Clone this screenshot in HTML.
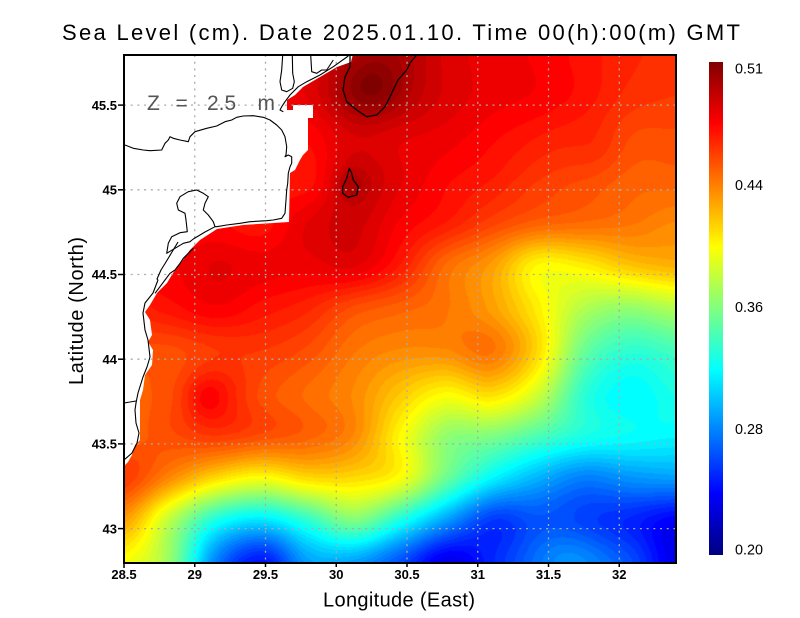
<!DOCTYPE html>
<html><head><meta charset="utf-8">
<style>
html,body{margin:0;padding:0;background:#fff;}
body{width:800px;height:618px;position:relative;overflow:hidden;font-family:"Liberation Sans",sans-serif;}
#cv{position:absolute;left:124px;top:55px;width:552px;height:508px;
background:linear-gradient(165deg,#d00000 0%,#ff2000 30%,#ff8000 50%,#ffe000 62%,#40ffc0 75%,#00a0ff 85%,#0010e0 100%);}
#ov{position:absolute;left:0;top:0;}
</style></head><body>
<canvas id="cv" width="552" height="508"></canvas>
<svg id="ov" width="800" height="618" viewBox="0 0 800 618" xmlns="http://www.w3.org/2000/svg">
<defs>
<linearGradient id="jet" x1="0" y1="1" x2="0" y2="0">
<stop offset="0" stop-color="#000080"/>
<stop offset="0.125" stop-color="#0000ff"/>
<stop offset="0.375" stop-color="#00ffff"/>
<stop offset="0.625" stop-color="#ffff00"/>
<stop offset="0.875" stop-color="#ff0000"/>
<stop offset="1" stop-color="#800000"/>
</linearGradient>
<clipPath id="pc"><rect x="124" y="55" width="552" height="508"/></clipPath>
</defs>

<!-- land mask -->
<g clip-path="url(#pc)">
<polygon fill="#fff" points="120,50 353,50 353,54 351,62 337,67 320,77 303,87 295,95 287,100 287,110 293,110 293,105 313,105 313,118 308,118 308,150 303,155 300,160 295,170 290,173 289,222 243,225 217,229 200,240 190,250 183,260 173,273 167,283 157,293 150,305 145,312 150,320 152,335 148,342 153,350 152,365 145,375 143,390 140,400 140,440 135,445 132,455 128,462 124,466 120,466"/>

<!-- grid -->
<g stroke="#aaaaaa" stroke-width="1.3" stroke-dasharray="2 4.7" fill="none">
<line x1="194.75" y1="55" x2="194.75" y2="563"/>
<line x1="265.5" y1="55" x2="265.5" y2="563"/>
<line x1="336.25" y1="55" x2="336.25" y2="563"/>
<line x1="407" y1="55" x2="407" y2="563"/>
<line x1="477.75" y1="55" x2="477.75" y2="563"/>
<line x1="548.5" y1="55" x2="548.5" y2="563"/>
<line x1="619.25" y1="55" x2="619.25" y2="563"/>
<line x1="124" y1="105.1" x2="676" y2="105.1"/>
<line x1="124" y1="189.8" x2="676" y2="189.8"/>
<line x1="124" y1="274.5" x2="676" y2="274.5"/>
<line x1="124" y1="359.2" x2="676" y2="359.2"/>
<line x1="124" y1="443.9" x2="676" y2="443.9"/>
<line x1="124" y1="528.6" x2="676" y2="528.6"/>
</g>

<!-- coastlines -->
<g stroke="#000" stroke-width="1.1" fill="none" stroke-linejoin="round">
<polyline points="125,145 133.3,148.3 143.3,150 150,150.7 161.7,150 163.3,146.7 165,143.3 168.3,140 170,136.7 173.3,138.3 180,140 188.3,141.7 190,136.7 195,131.7 206.7,128.3 216.7,126 225,121.7 231.7,120 236.7,117.3 243.3,116 253.3,115.7 263.3,117.3 270,120 276.7,125 281.7,130 285,136.7 286.7,146.7 286,155 285,156.7 288.3,155 291.7,156.7 291.7,163.3 290,166.7 288.3,173.3 287.7,183.3 286.7,190 286,200 285,213.3 281.7,218.3 273.3,220 266.7,220.7 250,221.7 240,223.3 226.7,225 216.7,226.7 215,226.7"/>
<polyline points="215,226.7 213.3,221.7 208.3,215 203.3,210 205,203.3 208.3,196.7 203.3,193.3 196.7,190 188.3,191.7 180,196.7 176.7,203.3 178.3,210 185,213.3 186,220 187.3,231.7 180,232.7 171.7,236.7 168.3,243.3 166.7,253.3 175,248.3 183.3,243.3 190,241.7 193.3,239 205,232 215,226.7"/>
<polyline points="193.3,248.3 188.3,253.3 183.3,258.3 180,263.3 175,270 170,273.3 165,280 160,286.7 155,293.3"/>
<polyline points="178,242 172,252 166,262 161,270 157,279 158,280"/>
<polyline points="158,280 153,293 145,303 143,313 145,330 148,340 150,357 147,367 143,377 138,393 136,403 135,410 136,423 139,433 137,443 132,453 124,460"/>
<polyline points="124,403 136,401"/>
<polyline points="282.7,55 281.7,70 280,81.7 281.7,90 286.7,91.7 292.7,88.3 294.3,81.7 292.7,73.3 292.3,55"/>
<polyline points="348.3,56 333.3,66.7 320,75 306.7,81.7 298.3,86.7 290,95 285,101.7 281.7,106.7 280,110 283.3,111.7"/>
<polyline points="310.7,55 311.7,71.7 316.7,73.3 321.7,70 326.7,70 330,65 333.3,60"/>
<!-- contours -->
<polyline points="350,55 350,66.7 345,76.7 343,90 346.7,101.7 356.7,110 366.7,116.7 376.7,115 385,106.7 390,96.7 398,80 406.7,70 410,63 416.7,55" stroke-width="1.3"/>
<polygon points="349.3,168.3 351.7,173.3 353.3,180 358.3,186.7 356.7,195 348.3,197.3 342.7,193.3 342.7,186.7 346.7,178.3" stroke-width="1.3"/>
</g>

<g font-size="21" fill="#555">
<text x="147" y="110">Z</text>
<text x="175.5" y="110">=</text>
<text x="207" y="110">2.5</text>
<text x="257.5" y="110">m</text>
</g>
</g>

<!-- plot frame -->
<rect x="124" y="55" width="552" height="508" fill="none" stroke="#000" stroke-width="2"/>

<!-- ticks -->
<g stroke="#000" stroke-width="1.5">
<line x1="118" y1="105.1" x2="124" y2="105.1"/>
<line x1="118" y1="189.8" x2="124" y2="189.8"/>
<line x1="118" y1="274.5" x2="124" y2="274.5"/>
<line x1="118" y1="359.2" x2="124" y2="359.2"/>
<line x1="118" y1="443.9" x2="124" y2="443.9"/>
<line x1="118" y1="528.6" x2="124" y2="528.6"/>
<line x1="124" y1="563" x2="124" y2="568"/>
<line x1="194.75" y1="563" x2="194.75" y2="567"/>
<line x1="265.5" y1="563" x2="265.5" y2="567"/>
<line x1="336.25" y1="563" x2="336.25" y2="567"/>
<line x1="407" y1="563" x2="407" y2="567"/>
<line x1="477.75" y1="563" x2="477.75" y2="567"/>
<line x1="548.5" y1="563" x2="548.5" y2="567"/>
<line x1="619.25" y1="563" x2="619.25" y2="567"/>
</g>

<g font-size="13" font-weight="bold" fill="#000" text-anchor="end">
<text x="117" y="109.8">45.5</text>
<text x="117" y="194.5">45</text>
<text x="117" y="279.2">44.5</text>
<text x="117" y="363.9">44</text>
<text x="117" y="448.6">43.5</text>
<text x="117" y="533.3">43</text>
</g>
<g font-size="13" font-weight="bold" fill="#000" text-anchor="middle">
<text x="124" y="579">28.5</text>
<text x="194.75" y="579">29</text>
<text x="265.5" y="579">29.5</text>
<text x="336.25" y="579">30</text>
<text x="407" y="579">30.5</text>
<text x="477.75" y="579">31</text>
<text x="548.5" y="579">31.5</text>
<text x="619.25" y="579">32</text>
</g>

<!-- colorbar -->
<rect x="709" y="62" width="14" height="493" fill="url(#jet)"/>
<g font-size="14.5" fill="#000">
<text x="735" y="73.5" textLength="28" lengthAdjust="spacingAndGlyphs">0.51</text>
<text x="735" y="190" textLength="28" lengthAdjust="spacingAndGlyphs">0.44</text>
<text x="735" y="312" textLength="28" lengthAdjust="spacingAndGlyphs">0.36</text>
<text x="735" y="434" textLength="28" lengthAdjust="spacingAndGlyphs">0.28</text>
<text x="735" y="554.5" textLength="28" lengthAdjust="spacingAndGlyphs">0.20</text>
</g>

<!-- titles -->
<text x="62" y="40" font-size="22" fill="#000" textLength="678" lengthAdjust="spacing">Sea Level (cm). Date 2025.01.10. Time 00(h):00(m) GMT</text>
<text x="323" y="606.5" font-size="20" fill="#000" textLength="152" lengthAdjust="spacing">Longitude (East)</text>
<text transform="translate(83,385) rotate(-90)" x="0" y="0" font-size="20" fill="#000" textLength="148" lengthAdjust="spacing">Latitude (North)</text>
</svg>

<script>
(function(){
var G=[
[0.88,0.88,0.88,0.88,0.90,0.94,0.95,0.91,0.89,0.88,0.86,0.84,0.83],
[0.88,0.88,0.88,0.88,0.90,0.95,0.94,0.91,0.89,0.88,0.86,0.83,0.82],
[0.88,0.88,0.88,0.87,0.87,0.91,0.90,0.89,0.87,0.85,0.83,0.80,0.80],
[0.88,0.88,0.88,0.87,0.86,0.93,0.90,0.87,0.85,0.82,0.80,0.78,0.78],
[0.87,0.87,0.87,0.86,0.90,0.92,0.88,0.85,0.81,0.78,0.77,0.76,0.74],
[0.88,0.88,0.90,0.89,0.89,0.90,0.85,0.77,0.72,0.63,0.64,0.68,0.70],
[0.84,0.86,0.88,0.86,0.84,0.80,0.78,0.76,0.72,0.64,0.55,0.52,0.55],
[0.80,0.80,0.82,0.82,0.80,0.76,0.74,0.74,0.76,0.66,0.48,0.42,0.44],
[0.78,0.80,0.85,0.80,0.77,0.74,0.68,0.63,0.66,0.58,0.42,0.37,0.40],
[0.78,0.80,0.82,0.80,0.78,0.74,0.63,0.52,0.50,0.45,0.40,0.38,0.37],
[0.82,0.74,0.66,0.62,0.66,0.66,0.62,0.48,0.37,0.30,0.25,0.27,0.28],
[0.72,0.56,0.40,0.35,0.42,0.50,0.40,0.28,0.18,0.20,0.18,0.16,0.12],
[0.62,0.52,0.25,0.14,0.28,0.28,0.20,0.10,0.16,0.22,0.24,0.20,0.10]];
var N=13;
function g(i,j){if(i<0)i=0;if(i>N-1)i=N-1;if(j<0)j=0;if(j>N-1)j=N-1;return G[j][i];}
function cr(p0,p1,p2,p3,t){return p1+0.5*t*(p2-p0+t*(2*p0-5*p1+4*p2-p3+t*(3*(p1-p2)+p3-p0)));}
function val(gx,gy){
 var i=Math.floor(gx),j=Math.floor(gy),fx=gx-i,fy=gy-j,r=[];
 for(var m=-1;m<=2;m++){r.push(cr(g(i-1,j+m),g(i,j+m),g(i+1,j+m),g(i+2,j+m),fx));}
 return cr(r[0],r[1],r[2],r[3],fy);
}
var B=[[372,85,22,0.045],[350,185,10,0.03],[205,398,14,0.03],[600,150,20,0.015],[565,555,25,0.03]];
function jet(t){
 function c(x){return x<0?0:(x>1?1:x);}
 return [c(1.5-Math.abs(4*t-3)),c(1.5-Math.abs(4*t-2)),c(1.5-Math.abs(4*t-1))];
}
var cv=document.getElementById('cv');var ctx=cv.getContext('2d');
var W=552,H=508;var im=ctx.createImageData(W,H);var d=im.data;
for(var py=0;py<H;py++){
 var Y=55+py+0.5;var gy=(Y-54)/42.4;
 for(var px=0;px<W;px++){
  var X=124+px+0.5;var gx=(X-124)/46;
  var t=val(gx,gy);
  for(var k=0;k<B.length;k++){var b=B[k];var dx=X-b[0],dy=Y-b[1];t+=b[3]*Math.exp(-(dx*dx+dy*dy)/(2*b[2]*b[2]));}
  if(t<0)t=0;if(t>1)t=1;
  t=Math.round(t*64)/64;
  var c=jet(t);var o=(py*W+px)*4;
  d[o]=Math.round(c[0]*255);d[o+1]=Math.round(c[1]*255);d[o+2]=Math.round(c[2]*255);d[o+3]=255;
 }
}
ctx.putImageData(im,0,0);
})();
</script>
</body></html>
